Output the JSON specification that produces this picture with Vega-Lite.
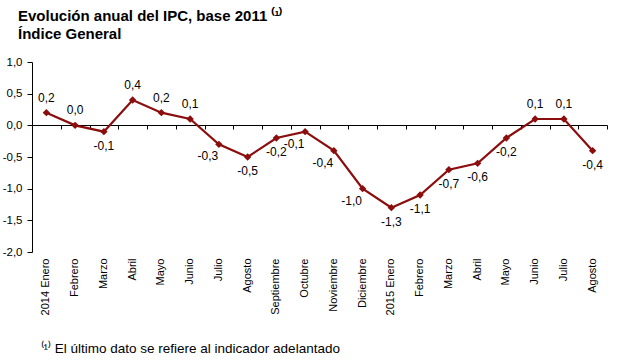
{
  "$schema": "https://vega.github.io/schema/vega-lite/v6.json",
  "autosize": {"type": "none"},
  "width": 575,
  "height": 190,
  "padding": {"left": 32, "top": 62, "right": 33, "bottom": 111},
  "background": "white",
  "title": {
    "text": ["Evolución anual del IPC, base 2011 ⁽¹⁾", "Índice General"],
    "anchor": "start",
    "frame": "group",
    "dx": -14,
    "offset": 14,
    "font": "Liberation Sans",
    "fontSize": 15,
    "fontWeight": "bold",
    "color": "#000000",
    "lineHeight": 18
  },
  "config": {
    "view": {"stroke": null},
    "font": "Liberation Sans",
    "locale": {
      "number": {
        "decimal": ",",
        "thousands": ".",
        "grouping": [3],
        "currency": ["", " €"],
        "minus": "-"
      }
    }
  },
  "resolve": {"axis": {"x": "independent"}},
  "data": {
    "values": [
      {"mes": "2014 Enero", "v": 0.2},
      {"mes": "Febrero ", "v": 0.0},
      {"mes": "Marzo ", "v": -0.1},
      {"mes": "Abril ", "v": 0.4},
      {"mes": "Mayo ", "v": 0.2},
      {"mes": "Junio", "v": 0.1},
      {"mes": "Julio", "v": -0.3},
      {"mes": "Agosto ", "v": -0.5},
      {"mes": "Septiembre", "v": -0.2},
      {"mes": "Octubre", "v": -0.1},
      {"mes": "Noviembre", "v": -0.4},
      {"mes": "Diciembre", "v": -1.0},
      {"mes": "2015 Enero", "v": -1.3},
      {"mes": "Febrero", "v": -1.1},
      {"mes": "Marzo", "v": -0.7},
      {"mes": "Abril", "v": -0.6},
      {"mes": "Mayo", "v": -0.2},
      {"mes": "Junio ", "v": 0.1},
      {"mes": "Julio ", "v": 0.1},
      {"mes": "Agosto", "v": -0.4}
    ]
  },
  "encoding": {
    "y": {
      "field": "v",
      "type": "quantitative",
      "scale": {"domain": [-2, 1], "nice": false, "zero": false},
      "axis": {
        "values": [-2, -1.5, -1, -0.5, 0, 0.5, 1],
        "format": ".1f",
        "labelOverlap": false,
        "grid": false,
        "title": null,
        "domainColor": "#000000",
        "tickColor": "#000000",
        "tickSize": 5,
        "labelPadding": 5,
        "labelFontSize": 11.5,
        "labelColor": "#000000",
        "labelFont": "Liberation Sans"
      }
    }
  },
  "layer": [
    {
      "mark": {"type": "line", "color": "#8b0d0d", "strokeWidth": 2.2},
      "encoding": {
        "x": {
          "field": "mes",
          "type": "nominal",
          "sort": null,
          "scale": {"paddingInner": 0, "paddingOuter": 0},
          "axis": {
            "orient": "bottom",
            "offset": -127,
            "labels": false,
            "title": null,
            "domainColor": "#000000",
            "domainWidth": 1,
            "tickColor": "#000000",
            "tickSize": 4,
            "tickBand": "extent",
            "grid": false
          }
        }
      }
    },
    {
      "mark": {"type": "point", "shape": "diamond", "filled": true, "size": 55, "color": "#8b0d0d", "opacity": 1},
      "encoding": {
        "x": {
          "field": "mes",
          "type": "nominal",
          "sort": null,
          "axis": {
            "orient": "bottom",
            "domain": false,
            "ticks": false,
            "grid": false,
            "labelAngle": -90,
            "labelPadding": 6,
            "labelFontSize": 11,
            "labelColor": "#000000",
            "labelFont": "Liberation Sans",
            "title": "⁽¹⁾ El último dato se refiere al indicador adelantado",
            "titleFontSize": 13.5,
            "titleFontWeight": "normal",
            "titleColor": "#000000",
            "titleFont": "Liberation Sans",
            "titleAnchor": "start",
            "titleAlign": "left",
            "titleX": 8,
            "titleY": 100,
            "titleBaseline": "alphabetic"
          }
        }
      }
    },
    {
      "transform": [{"filter": {"field": "mes", "oneOf": ["2014 Enero", "Febrero ", "Abril ", "Mayo ", "Junio", "Junio ", "Julio "]}}],
      "mark": {"type": "text", "dy": -15, "fontSize": 12, "color": "#000000", "font": "Liberation Sans"},
      "encoding": {
        "x": {"field": "mes", "type": "nominal", "sort": null, "axis": null},
        "text": {"field": "v", "type": "quantitative", "format": ".1f"}
      }
    },
    {
      "transform": [{"filter": {"field": "mes", "oneOf": ["Marzo ", "Agosto ", "Septiembre", "Febrero", "Marzo", "Abril", "Mayo", "Agosto", "2015 Enero"]}}],
      "mark": {"type": "text", "dy": 14, "fontSize": 12, "color": "#000000", "font": "Liberation Sans"},
      "encoding": {
        "x": {"field": "mes", "type": "nominal", "sort": null, "axis": null},
        "text": {"field": "v", "type": "quantitative", "format": ".1f"}
      }
    },
    {
      "transform": [{"filter": {"field": "mes", "oneOf": ["Julio", "Octubre", "Noviembre", "Diciembre"]}}],
      "mark": {"type": "text", "dy": 12, "dx": -11, "fontSize": 12, "color": "#000000", "font": "Liberation Sans"},
      "encoding": {
        "x": {"field": "mes", "type": "nominal", "sort": null, "axis": null},
        "text": {"field": "v", "type": "quantitative", "format": ".1f"}
      }
    }
  ]
}
